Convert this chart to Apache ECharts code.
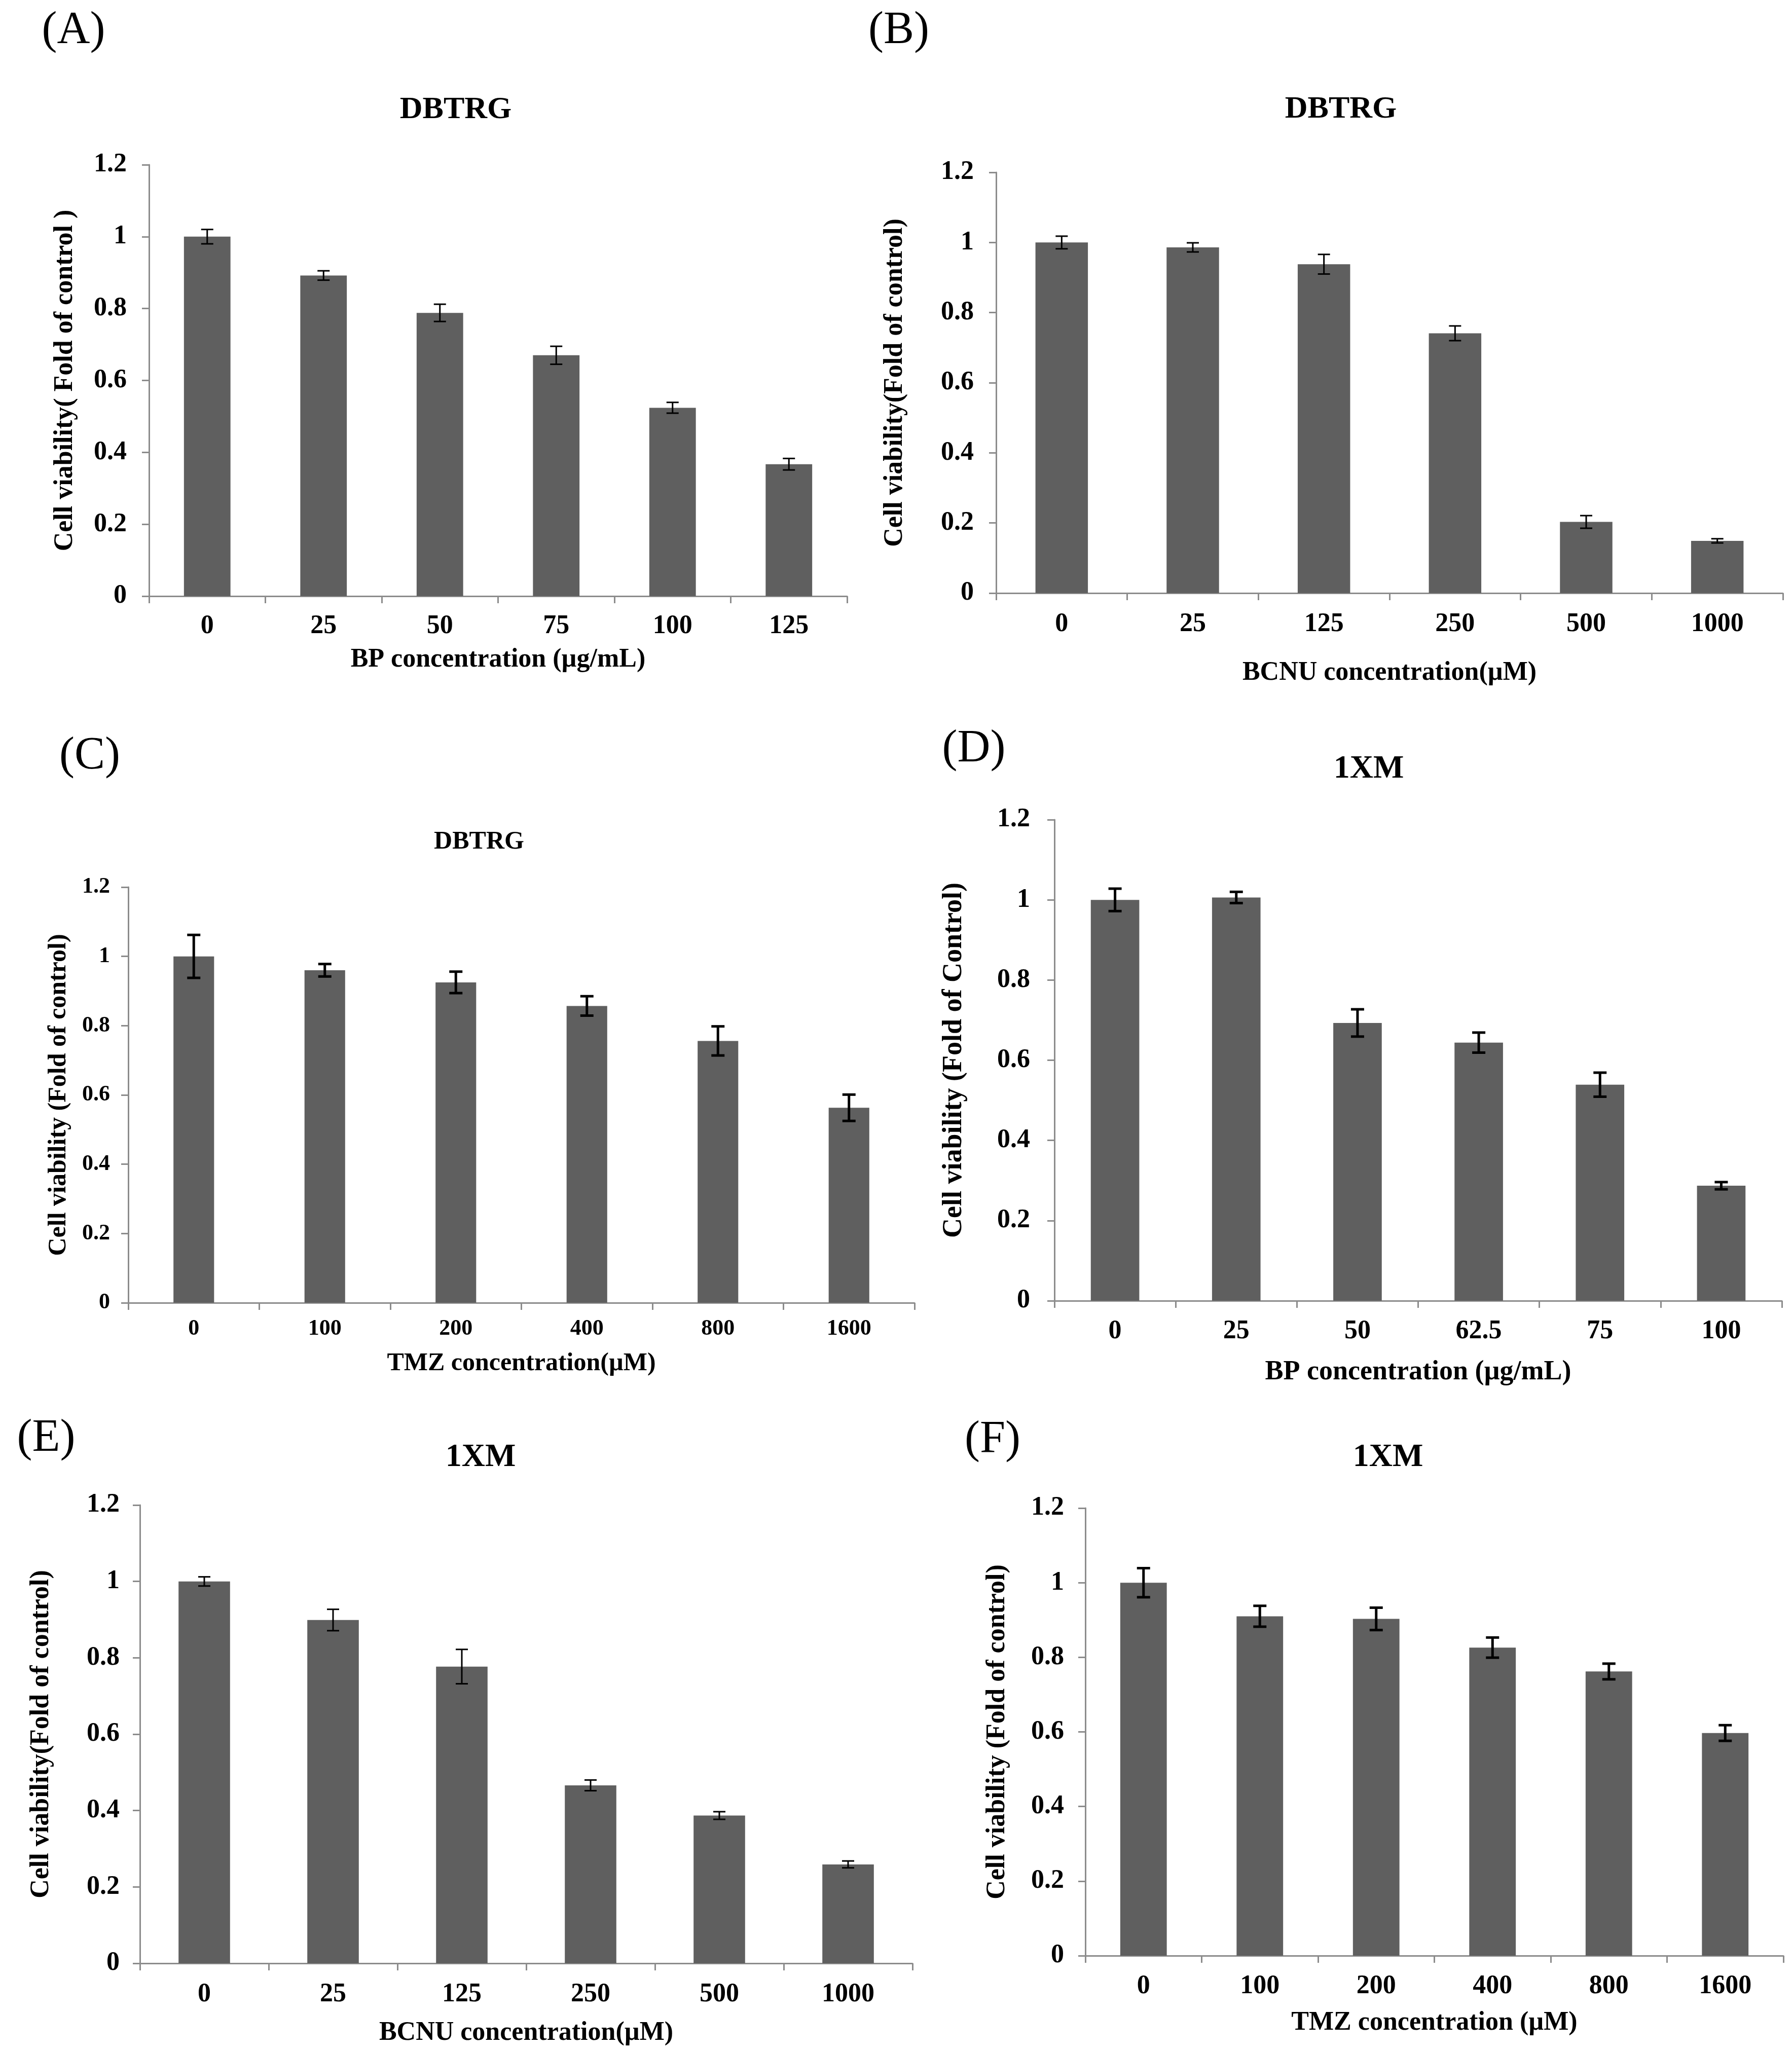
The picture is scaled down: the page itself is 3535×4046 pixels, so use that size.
<!DOCTYPE html>
<html>
<head>
<meta charset="utf-8">
<script src="https://cdn.jsdelivr.net/npm/echarts@6/dist/echarts.min.js"></script>
<style>
html,body{margin:0;padding:0;background:#fff;}
#chart{width:3535px;height:4046px;}
</style>
</head>
<body>
<div id="chart"></div>
<script>
// ---------- data ----------
const yTicks = [0, 0.2, 0.4, 0.6, 0.8, 1, 1.2];

const catA = ['0', '25', '50', '75', '100', '125'];
const valA = [1.0, 0.892, 0.788, 0.670, 0.524, 0.367];
const errA = [0.020, 0.013, 0.024, 0.025, 0.015, 0.016];

const catB = ['0', '25', '125', '250', '500', '1000'];
const valB = [1.0, 0.986, 0.938, 0.741, 0.203, 0.149];
const errB = [0.018, 0.013, 0.028, 0.021, 0.018, 0.006];

const catC = ['0', '100', '200', '400', '800', '1600'];
const valC = [1.0, 0.960, 0.925, 0.857, 0.756, 0.563];
const errC = [0.062, 0.018, 0.031, 0.028, 0.042, 0.038];

const catD = ['0', '25', '50', '62.5', '75', '100'];
const valD = [1.0, 1.006, 0.693, 0.644, 0.539, 0.287];
const errD = [0.028, 0.014, 0.034, 0.025, 0.030, 0.009];

const catE = ['0', '25', '125', '250', '500', '1000'];
const valE = [1.0, 0.899, 0.777, 0.466, 0.387, 0.259];
const errE = [0.012, 0.028, 0.045, 0.014, 0.010, 0.009];

const catF = ['0', '100', '200', '400', '800', '1600'];
const valF = [1.0, 0.910, 0.903, 0.826, 0.762, 0.597];
const errF = [0.039, 0.028, 0.030, 0.027, 0.021, 0.021];

const titleTexts = ['DBTRG', 'DBTRG', 'DBTRG', '1XM', '1XM', '1XM'];
const panelLetters = ['(A)', '(B)', '(C)', '(D)', '(E)', '(F)'];
const yNames = [
  'Cell viability( Fold of control )',
  'Cell viability(Fold of control)',
  'Cell viability (Fold of control)',
  'Cell viability (Fold of Control)',
  'Cell viability(Fold of control)',
  'Cell viability (Fold of control)'
];
const xNames = [
  'BP concentration (\u00b5g/mL)',
  'BCNU concentration(\u00b5M)',
  'TMZ concentration(\u00b5M)',
  'BP concentration (\u00b5g/mL)',
  'BCNU concentration(\u00b5M)',
  'TMZ concentration (\u00b5M)'
];

// ---------- layout / style ----------
const FONT = '"Liberation Serif", "Times New Roman", serif';
const BAR = '#5f5f5f';
const AXIS = '#8c8c8c';

const panels = [
  {cat: catA, val: valA, err: errA, grid: {left: 294, top: 325, width: 1377, height: 851},
   title: [894, 212, 62], letter: [140, 57], tick: 52, name: 52, yGap: 139, xGap: 100, xMargin: 34, yMargin: 44, bw: '40%', ew: 3, cap: 12},
  {cat: catB, val: valB, err: errB, grid: {left: 1965, top: 340, width: 1552, height: 830},
   title: [2640, 211, 62], letter: [1768, 57], tick: 52, name: 52, yGap: 173, xGap: 132, xMargin: 36, yMargin: 44, bw: '40%', ew: 3, cap: 12},
  {cat: catC, val: valC, err: errC, grid: {left: 253, top: 1750, width: 1551, height: 820},
   title: [940, 1656, 50], letter: [172, 1488], tick: 44, name: 50, yGap: 112, xGap: 95, xMargin: 30, yMargin: 36, bw: '31%', ew: 5, cap: 13},
  {cat: catD, val: valD, err: errD, grid: {left: 2080, top: 1617, width: 1435, height: 949},
   title: [2695, 1512, 64], letter: [1916, 1474], tick: 52, name: 54, yGap: 171, xGap: 114, xMargin: 35, yMargin: 48, bw: '40%', ew: 5, cap: 13},
  {cat: catE, val: valE, err: errE, grid: {left: 276, top: 2969, width: 1524, height: 904},
   title: [943, 2870, 64], letter: [86, 2834], tick: 52, name: 52, yGap: 168, xGap: 112, xMargin: 36, yMargin: 40, bw: '40%', ew: 3, cap: 12},
  {cat: catF, val: valF, err: errF, grid: {left: 2141, top: 2975, width: 1377, height: 883},
   title: [2733, 2870, 64], letter: [1953, 2837], tick: 52, name: 52, yGap: 147, xGap: 107, xMargin: 35, yMargin: 42, bw: '40%', ew: 5, cap: 13}
];

const option = {
  backgroundColor: '#ffffff',
  animation: false,
  title: [],
  grid: [],
  xAxis: [],
  yAxis: [],
  series: []
};

panels.forEach((p, i) => {
  option.grid.push(p.grid);
  option.title.push({
    text: titleTexts[i], left: p.title[0], top: p.title[1] - p.title[2] / 2, textAlign: 'center',
    textStyle: {fontFamily: FONT, fontWeight: 'bold', fontSize: p.title[2], color: '#000'}
  });
  option.title.push({
    text: panelLetters[i], left: p.letter[0], top: p.letter[1] - 46, textAlign: 'center',
    textStyle: {fontFamily: FONT, fontWeight: 'normal', fontSize: 90, color: '#000'}
  });
  option.xAxis.push({
    type: 'category', gridIndex: i, data: p.cat,
    name: xNames[i], nameLocation: 'middle', nameGap: p.xGap,
    nameTextStyle: {fontFamily: FONT, fontWeight: 'bold', fontSize: p.name, color: '#000'},
    axisLine: {show: true, lineStyle: {color: AXIS, width: 3}},
    axisTick: {show: true, alignWithLabel: false, length: 14, lineStyle: {color: AXIS, width: 3}},
    axisLabel: {fontFamily: FONT, fontWeight: 'bold', fontSize: p.tick, color: '#000', margin: p.xMargin, interval: 0},
    splitLine: {show: false}
  });
  option.yAxis.push({
    type: 'value', gridIndex: i, min: 0, max: 1.2, interval: 0.2,
    name: yNames[i], nameLocation: 'middle', nameGap: p.yGap, nameRotate: 90,
    nameTextStyle: {fontFamily: FONT, fontWeight: 'bold', fontSize: p.name, color: '#000'},
    axisLine: {show: true, lineStyle: {color: AXIS, width: 3}},
    axisTick: {show: true, length: 14, lineStyle: {color: AXIS, width: 3}},
    axisLabel: {fontFamily: FONT, fontWeight: 'bold', fontSize: p.tick, color: '#000', margin: p.yMargin,
      formatter: v => {
        const t = yTicks.find(k => Math.abs(k - v) < 1e-9);
        return t === undefined ? '' : String(t);
      }},
    splitLine: {show: false}
  });
  option.series.push({
    type: 'bar', xAxisIndex: i, yAxisIndex: i, data: p.val, barWidth: p.bw,
    itemStyle: {color: BAR}, silent: true
  });
  const ew = p.ew, cap = p.cap;
  option.series.push({
    type: 'custom', xAxisIndex: i, yAxisIndex: i, silent: true, z: 5,
    data: p.val.map((v, k) => [k, v, p.err[k]]),
    renderItem: function (params, api) {
      const x = api.value(0), y = api.value(1), e = api.value(2);
      const hi = api.coord([x, y + e]);
      const lo = api.coord([x, y - e]);
      const st = {stroke: '#000', lineWidth: ew};
      return {
        type: 'group',
        children: [
          {type: 'line', shape: {x1: hi[0], y1: hi[1], x2: lo[0], y2: lo[1]}, style: st},
          {type: 'line', shape: {x1: hi[0] - cap, y1: hi[1], x2: hi[0] + cap, y2: hi[1]}, style: st},
          {type: 'line', shape: {x1: lo[0] - cap, y1: lo[1], x2: lo[0] + cap, y2: lo[1]}, style: st}
        ]
      };
    }
  });
});

const chart = echarts.init(document.getElementById('chart'), null, {renderer: 'canvas'});
chart.setOption(option);
</script>
</body>
</html>
